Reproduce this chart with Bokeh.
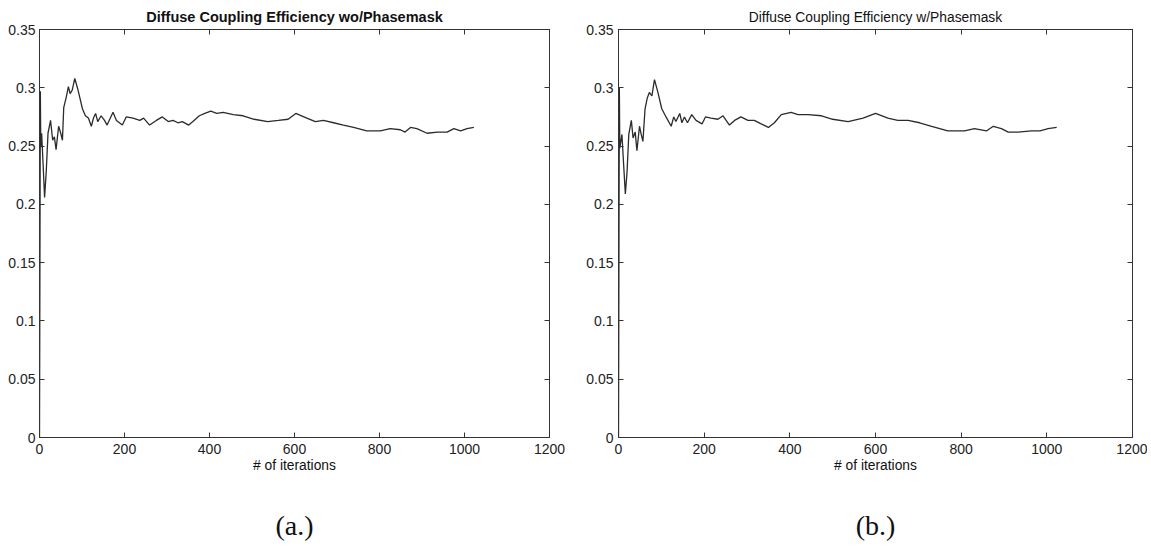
from bokeh.plotting import figure
from bokeh.layouts import row
from bokeh.models import Range1d, FixedTicker, LinearAxis, Title
from bokeh.embed import file_html
from bokeh.resources import INLINE

# ---------------- data ----------------
titles = ["Diffuse Coupling Efficiency wo/Phasemask",
          "Diffuse Coupling Efficiency w/Phasemask"]
captions = ["(a.)", "(b.)"]
x_label = "# of iterations"
x_ticks = [0, 200, 400, 600, 800, 1000, 1200]
y_ticks = [0, 0.05, 0.1, 0.15, 0.2, 0.25, 0.3, 0.35]
y_tick_labels = ["0", "0.05", "0.1", "0.15", "0.2", "0.25", "0.3", "0.35"]

iter_a = [0, 2, 3, 5, 8, 12, 16, 20, 26, 31, 35, 39, 45, 50, 54, 57, 63, 68, 72, 77,
          83, 90, 101, 108, 115, 122, 127, 132, 137, 145, 153, 159, 173, 181, 195, 204,
          220, 236, 245, 259, 275, 289, 303, 314, 326, 336, 351, 361, 376, 389, 403, 417,
          432, 456, 479, 505, 537, 562, 585, 603, 629, 649, 668, 692, 715, 739, 770, 802,
          825, 849, 860, 873, 888, 912, 936, 959, 975, 991, 1006, 1022]
eff_a = [0.0, 0.297, 0.249, 0.261, 0.238, 0.206, 0.229, 0.261, 0.272, 0.255, 0.258, 0.247,
         0.267, 0.261, 0.255, 0.283, 0.292, 0.301, 0.295, 0.298, 0.308, 0.299, 0.282, 0.276,
         0.274, 0.267, 0.274, 0.278, 0.271, 0.276, 0.272, 0.268, 0.279, 0.272, 0.268, 0.275,
         0.274, 0.272, 0.274, 0.268, 0.272, 0.275, 0.271, 0.272, 0.270, 0.271, 0.268, 0.271,
         0.276, 0.278, 0.280, 0.278, 0.279, 0.277, 0.276, 0.273, 0.271, 0.272, 0.273, 0.278,
         0.274, 0.271, 0.272, 0.270, 0.268, 0.266, 0.263, 0.263, 0.265, 0.264, 0.262, 0.266,
         0.265, 0.261, 0.262, 0.262, 0.265, 0.263, 0.265, 0.266]

iter_b = [0, 2, 3, 8, 12, 16, 20, 24, 30, 34, 39, 43, 49, 53, 57, 62, 67, 72, 78, 84,
          92, 101, 111, 123, 129, 134, 143, 148, 154, 161, 171, 181, 195, 203, 216, 232,
          244, 259, 271, 286, 302, 317, 333, 350, 364, 380, 403, 419, 442, 474, 500, 536,
          571, 600, 629, 652, 676, 703, 731, 769, 808, 831, 859, 875, 894, 910, 933, 964,
          984, 1003, 1023]
eff_b = [0.0, 0.300, 0.248, 0.260, 0.234, 0.209, 0.228, 0.260, 0.272, 0.257, 0.262, 0.246,
         0.267, 0.260, 0.254, 0.282, 0.291, 0.296, 0.293, 0.307, 0.296, 0.282, 0.275, 0.267,
         0.275, 0.271, 0.278, 0.270, 0.275, 0.270, 0.277, 0.272, 0.269, 0.275, 0.274, 0.273,
         0.276, 0.268, 0.272, 0.275, 0.272, 0.272, 0.269, 0.266, 0.270, 0.277, 0.279, 0.277,
         0.277, 0.276, 0.273, 0.271, 0.274, 0.278, 0.274, 0.272, 0.272, 0.270, 0.267, 0.263,
         0.263, 0.265, 0.263, 0.267, 0.265, 0.262, 0.262, 0.263, 0.263, 0.265, 0.266]

SANS = "Liberation Sans"
SERIF = "Liberation Serif"
INK = "#222222"


def make_panel(xs, ys, title, title_style, title_size, caption, frame_w,
               b_left, b_right, y_standoff):
    p = figure(frame_width=frame_w, frame_height=408,
               x_range=Range1d(0, 1200), y_range=Range1d(0, 0.35),
               output_backend="svg", toolbar_location=None,
               min_border_left=b_left, min_border_right=b_right,
               min_border_top=29, min_border_bottom=100,
               background_fill_color="white", border_fill_color="white")
    p.outline_line_color = "#333333"
    p.outline_line_width = 1
    p.grid.visible = False

    p.title.text = title
    p.title.align = "center"
    p.title.text_font = SANS
    p.title.text_font_size = title_size
    p.title.text_font_style = title_style
    p.title.text_color = "#111111"
    p.title.standoff = 10

    xa = p.xaxis[0]
    xa.ticker = FixedTicker(ticks=x_ticks)
    xa.axis_label = x_label
    ya = p.yaxis[0]
    ya.ticker = FixedTicker(ticks=y_ticks)
    ya.major_label_overrides = {t: l for t, l in zip(y_ticks, y_tick_labels)}
    for ax in (xa, ya):
        ax.major_tick_in = 5
        ax.major_tick_out = 0
        ax.minor_tick_line_color = None
        ax.axis_line_color = "#333333"
        ax.major_tick_line_color = "#333333"
        ax.major_label_text_font = SANS
        ax.major_label_text_font_size = "14px"
        ax.major_label_text_color = INK
    xa.major_label_standoff = 6
    ya.major_label_standoff = y_standoff
    xa.axis_label_text_font = SANS
    xa.axis_label_text_font_size = "13.8px"
    xa.axis_label_text_font_style = "normal"
    xa.axis_label_text_color = "#111111"
    xa.axis_label_standoff = 1

    top = LinearAxis(ticker=FixedTicker(ticks=x_ticks))
    right = LinearAxis(ticker=FixedTicker(ticks=y_ticks))
    for ax in (top, right):
        ax.major_tick_in = 5
        ax.major_tick_out = 0
        ax.minor_tick_line_color = None
        ax.major_label_text_font_size = "1px"
        ax.major_label_text_color = None
        ax.major_label_standoff = 0
        ax.axis_line_color = "#333333"
        ax.major_tick_line_color = "#333333"
    p.add_layout(top, "above")
    p.add_layout(right, "right")

    cap = Title(text=caption, align="center", text_font=SERIF,
                text_font_size="28px", text_font_style="normal",
                text_color="#111111", standoff=64)
    p.add_layout(cap, "below")

    p.line(xs, ys, line_color="#2b2b2b", line_width=1.3)
    return p


pa = make_panel(iter_a, eff_a, titles[0], "bold", "14.5px", captions[0], 510, 39, 34, 4)
pb = make_panel(iter_b, eff_b, titles[1], "normal", "13.8px", captions[1], 514, 31, 15, 5)

layout = row(pa, pb)
open("out.html", "w").write(file_html(layout, INLINE))
